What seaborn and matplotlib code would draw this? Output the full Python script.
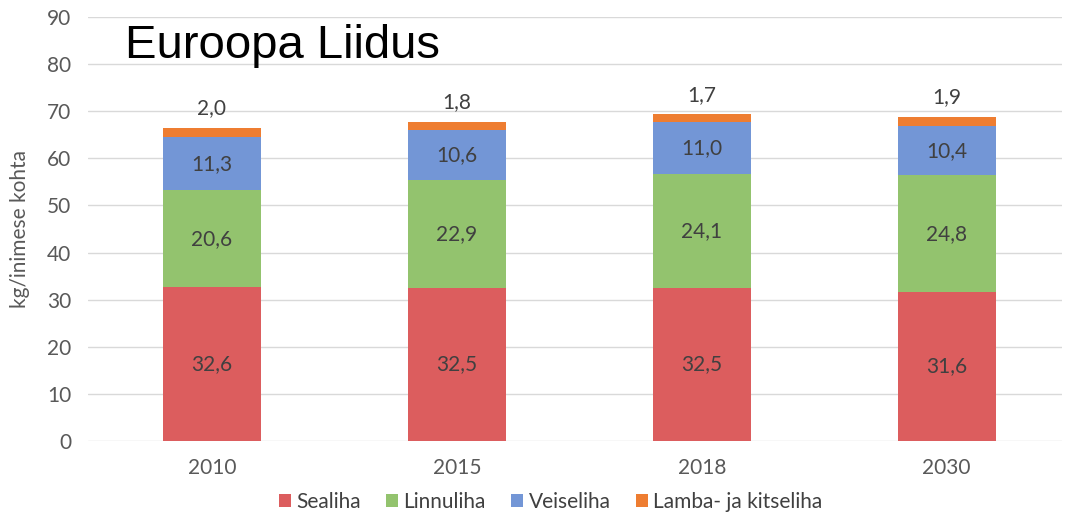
import numpy as np
import pandas as pd
import matplotlib
matplotlib.use("Agg")
import matplotlib.pyplot as plt
import seaborn as sns

years = ["2010", "2015", "2018", "2030"]
sealiha = [32.6, 32.5, 32.5, 31.6]
linnuliha = [20.6, 22.9, 24.1, 24.8]
veiseliha = [11.3, 10.6, 11.0, 10.4]
lambaliha = [2.0, 1.8, 1.7, 1.9]

series_names = ["Sealiha", "Linnuliha", "Veiseliha", "Lamba- ja kitseliha"]
series_colors = ["#dc5d5e", "#93c36e", "#7396d6", "#ee7d31"]

sns.set_theme(style="white")
plt.rcParams["font.family"] = ["Lato", "DejaVu Sans"]

values = np.array([sealiha, linnuliha, veiseliha, lambaliha])
cumulative = values.cumsum(axis=0)

fig = plt.figure(figsize=(10.66, 5.13), dpi=100)
ax = fig.add_axes([0.0826, 0.1404, 0.9134, 0.8266])

# stacked bars: draw totals from the top layer down
for i in reversed(range(len(series_names))):
    df = pd.DataFrame({"year": years, "value": cumulative[i]})
    sns.barplot(
        data=df,
        x="year",
        y="value",
        color=series_colors[i],
        saturation=1,
        width=0.4,
        ax=ax,
        label=series_names[i],
        linewidth=0,
        edgecolor="none",
        zorder=3,
    )

def fmt(v):
    return f"{v:.1f}".replace(".", ",")

for i in range(len(series_names)):
    for j in range(len(years)):
        v = values[i, j]
        if i == len(series_names) - 1:
            ax.annotate(
                fmt(v), (j, cumulative[i, j]),
                xytext=(0, 7), textcoords="offset points",
                ha="center", va="bottom", fontsize=15, color="#404040",
            )
        else:
            ax.text(
                j, cumulative[i, j] - v / 2, fmt(v),
                ha="center", va="center", fontsize=15, color="#404040", zorder=4,
            )

ax.set_ylim(0, 90)
ax.set_yticks(range(0, 91, 10))
ax.set_xlim(-0.506, 3.47)
ax.yaxis.grid(True, color="#d9d9d9", linewidth=1)
ax.set_axisbelow(True)
for s in ax.spines.values():
    s.set_visible(False)
ax.tick_params(axis="y", length=0, labelsize=15, colors="#595959", pad=12)
ax.tick_params(axis="x", length=0, labelsize=15, colors="#595959", pad=12)
ax.set_xlabel("")
ax.set_ylabel("kg/inimese kohta", fontsize=15, color="#595959", labelpad=12)

handles, labels = ax.get_legend_handles_labels()
order = [labels.index(n) for n in series_names]
ax.legend(
    [handles[k] for k in order], series_names,
    loc="upper center", bbox_to_anchor=(0.475, -0.075),
    ncol=4, frameon=False, fontsize=15,
    handlelength=0.6, handleheight=0.6, handletextpad=0.25, columnspacing=1.2,
    labelcolor="#404040",
)

fig.text(125 / 1066, 1 - 46 / 513, "Euroopa Liidus", family="Liberation Sans",
         fontsize=34, color="black", va="center", ha="left")

fig.savefig("out.png", dpi=100)
